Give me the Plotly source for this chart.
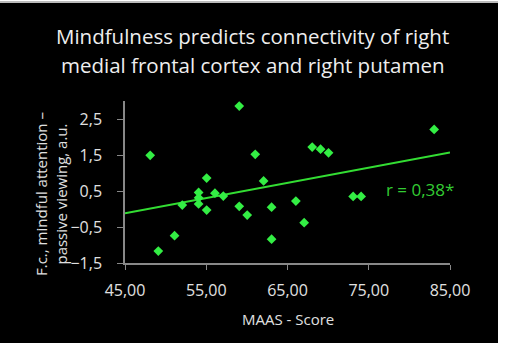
import plotly.graph_objects as go

# Data
maas_score = [48.1, 49.1, 51.1, 52.05, 54.06, 54.06, 54.06, 55.05, 55.05, 56.07,
              57.1, 59.06, 59.06, 60.04, 61.03, 62.06, 63.04, 63.04, 66.03, 67.05,
              68.04, 69.07, 70.05, 73.08, 74.06, 83.05]
connectivity = [1.49, -1.17, -0.74, 0.11, 0.46, 0.31, 0.14, 0.86, -0.03, 0.44,
                0.36, 2.86, 0.075, -0.17, 1.52, 0.78, 0.05, -0.84, 0.22, -0.38,
                1.72, 1.66, 1.56, 0.35, 0.35, 2.21]
trend_x = [45, 85]
trend_y = [-0.12, 1.57]
x_ticks = [45, 55, 65, 75, 85]
y_ticks = [-1.5, -0.5, 0.5, 1.5, 2.5]

W, H = 505, 346
L, R, T, B = 125, 55, 101, 83
pw, ph = W - L - R, H - T - B

def px_x(px):
    return (px - L) / pw

def px_y(py):
    return (H - B - py) / ph

FONT = "Open Sans"
fig = go.Figure()
fig.add_trace(go.Scatter(x=trend_x, y=trend_y, mode="lines",
                         line=dict(color="#33dd33", width=2), hoverinfo="skip"))
fig.add_trace(go.Scatter(x=maas_score, y=connectivity, mode="markers",
                         marker=dict(symbol="diamond", size=7.5, color="#33ee44")))

fig.update_layout(
    width=W, height=H, margin=dict(l=L, r=R, t=T, b=B),
    paper_bgcolor="white", plot_bgcolor="black", showlegend=False,
    separators=",.",
    font=dict(family=FONT, color="#e0e0e0", size=16),
    shapes=[dict(type="rect", xref="paper", yref="paper",
                 x0=px_x(0), x1=px_x(498), y0=px_y(343), y1=px_y(3),
                 fillcolor="black", line=dict(width=0), layer="below"),
            dict(type="line", xref="paper", yref="paper",
                 x0=px_x(0), x1=px_x(498), y0=px_y(2), y1=px_y(2),
                 line=dict(color="#bbbbbb", width=2), layer="below")],
    annotations=[
        dict(text="Mindfulness predicts connectivity of right", xref="paper", yref="paper",
             x=px_x(252), y=px_y(36), xanchor="center", yanchor="middle", showarrow=False,
             font=dict(size=20.5, color="#eeeeee", family=FONT)),
        dict(text="medial frontal cortex and right putamen", xref="paper", yref="paper",
             x=px_x(252), y=px_y(65), xanchor="center", yanchor="middle", showarrow=False,
             font=dict(size=20.5, color="#eeeeee", family=FONT)),
        dict(text="F.c., mindful attention –<br>passive viewing, a.u.", xref="paper", yref="paper",
             x=px_x(51), y=px_y(194), xanchor="center", yanchor="middle", showarrow=False,
             textangle=-90, font=dict(size=15, color="#e0e0e0", family=FONT)),
        dict(text="MAAS - Score", xref="paper", yref="paper",
             x=px_x(288), y=px_y(319), xanchor="center", yanchor="middle", showarrow=False,
             font=dict(size=15, color="#e0e0e0", family=FONT)),
        dict(text="r = 0,38*", xref="x", yref="y",
             x=81.3, y=0.53, xanchor="center", yanchor="middle", showarrow=False,
             font=dict(size=17, color="#33cc33", family=FONT)),
    ],
)
fig.update_xaxes(range=[45, 85], tickvals=x_ticks, tickformat=".2f",
                 showgrid=False, zeroline=False, showline=True, linecolor="#888888",
                 linewidth=1.5, ticks="outside", ticklen=5, tickcolor="#888888",
                 ticklabelstandoff=7, tickfont=dict(size=16, color="#e0e0e0"))
fig.update_yaxes(range=[-1.5, 3.0], tickvals=y_ticks, tickformat=".1f",
                 showgrid=False, zeroline=False, showline=True, linecolor="#888888",
                 linewidth=1.5, ticks="outside", ticklen=6, tickcolor="#888888",
                 ticklabelstandoff=12, tickfont=dict(size=16, color="#e0e0e0"))

fig.write_html("out.html")
